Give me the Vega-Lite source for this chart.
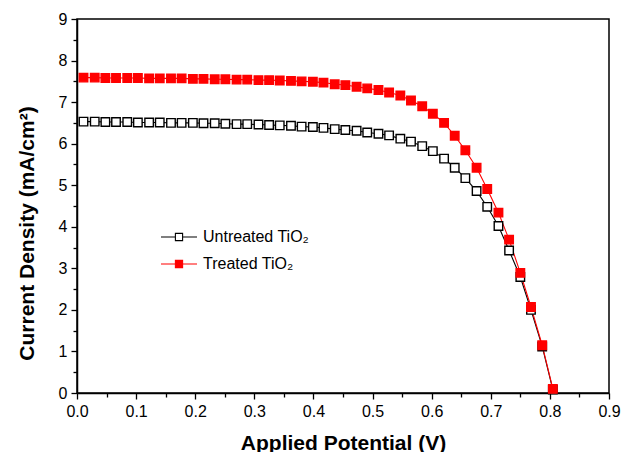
{
  "$schema": "https://vega.github.io/schema/vega-lite/v6.json",
  "width": 532,
  "height": 374,
  "autosize": {"type": "none"},
  "padding": {"left": 77, "top": 19, "right": 16, "bottom": 59},
  "background": "white",
  "config": {
    "view": {"stroke": "#000000", "strokeWidth": 1.5},
    "font": "Liberation Sans",
    "axis": {"grid": false, "labelFlush": false, "labelOverlap": false, "domainColor": "#000000", "domainWidth": 1.5, "tickColor": "#000000", "tickWidth": 1.3, "labelColor": "#000000", "titleColor": "#000000", "labelFont": "Liberation Sans", "titleFont": "Liberation Sans"}
  },
  "data": {"values": [
    {"series": "Untreated TiO₂", "V": 0.011, "J": 6.53},
    {"series": "Untreated TiO₂", "V": 0.030, "J": 6.53},
    {"series": "Untreated TiO₂", "V": 0.048, "J": 6.52},
    {"series": "Untreated TiO₂", "V": 0.066, "J": 6.52},
    {"series": "Untreated TiO₂", "V": 0.085, "J": 6.52},
    {"series": "Untreated TiO₂", "V": 0.103, "J": 6.51},
    {"series": "Untreated TiO₂", "V": 0.122, "J": 6.51},
    {"series": "Untreated TiO₂", "V": 0.140, "J": 6.51},
    {"series": "Untreated TiO₂", "V": 0.159, "J": 6.50},
    {"series": "Untreated TiO₂", "V": 0.177, "J": 6.50},
    {"series": "Untreated TiO₂", "V": 0.196, "J": 6.50},
    {"series": "Untreated TiO₂", "V": 0.214, "J": 6.49},
    {"series": "Untreated TiO₂", "V": 0.233, "J": 6.49},
    {"series": "Untreated TiO₂", "V": 0.251, "J": 6.48},
    {"series": "Untreated TiO₂", "V": 0.270, "J": 6.47},
    {"series": "Untreated TiO₂", "V": 0.288, "J": 6.47},
    {"series": "Untreated TiO₂", "V": 0.307, "J": 6.46},
    {"series": "Untreated TiO₂", "V": 0.325, "J": 6.45},
    {"series": "Untreated TiO₂", "V": 0.343, "J": 6.44},
    {"series": "Untreated TiO₂", "V": 0.362, "J": 6.43},
    {"series": "Untreated TiO₂", "V": 0.380, "J": 6.41},
    {"series": "Untreated TiO₂", "V": 0.399, "J": 6.40},
    {"series": "Untreated TiO₂", "V": 0.417, "J": 6.38},
    {"series": "Untreated TiO₂", "V": 0.436, "J": 6.35},
    {"series": "Untreated TiO₂", "V": 0.454, "J": 6.33},
    {"series": "Untreated TiO₂", "V": 0.473, "J": 6.31},
    {"series": "Untreated TiO₂", "V": 0.491, "J": 6.27},
    {"series": "Untreated TiO₂", "V": 0.510, "J": 6.24},
    {"series": "Untreated TiO₂", "V": 0.528, "J": 6.20},
    {"series": "Untreated TiO₂", "V": 0.547, "J": 6.12},
    {"series": "Untreated TiO₂", "V": 0.565, "J": 6.05},
    {"series": "Untreated TiO₂", "V": 0.584, "J": 5.94},
    {"series": "Untreated TiO₂", "V": 0.602, "J": 5.82},
    {"series": "Untreated TiO₂", "V": 0.621, "J": 5.64},
    {"series": "Untreated TiO₂", "V": 0.639, "J": 5.42},
    {"series": "Untreated TiO₂", "V": 0.657, "J": 5.17},
    {"series": "Untreated TiO₂", "V": 0.676, "J": 4.86},
    {"series": "Untreated TiO₂", "V": 0.694, "J": 4.48},
    {"series": "Untreated TiO₂", "V": 0.713, "J": 4.02},
    {"series": "Untreated TiO₂", "V": 0.731, "J": 3.43},
    {"series": "Untreated TiO₂", "V": 0.750, "J": 2.79},
    {"series": "Untreated TiO₂", "V": 0.768, "J": 2.00},
    {"series": "Untreated TiO₂", "V": 0.787, "J": 1.12},
    {"series": "Untreated TiO₂", "V": 0.805, "J": 0.08},
    {"series": "Treated TiO₂", "V": 0.011, "J": 7.59},
    {"series": "Treated TiO₂", "V": 0.030, "J": 7.59},
    {"series": "Treated TiO₂", "V": 0.048, "J": 7.58},
    {"series": "Treated TiO₂", "V": 0.066, "J": 7.58},
    {"series": "Treated TiO₂", "V": 0.085, "J": 7.58},
    {"series": "Treated TiO₂", "V": 0.103, "J": 7.58},
    {"series": "Treated TiO₂", "V": 0.122, "J": 7.57},
    {"series": "Treated TiO₂", "V": 0.140, "J": 7.57},
    {"series": "Treated TiO₂", "V": 0.159, "J": 7.57},
    {"series": "Treated TiO₂", "V": 0.177, "J": 7.57},
    {"series": "Treated TiO₂", "V": 0.196, "J": 7.56},
    {"series": "Treated TiO₂", "V": 0.214, "J": 7.56},
    {"series": "Treated TiO₂", "V": 0.233, "J": 7.55},
    {"series": "Treated TiO₂", "V": 0.251, "J": 7.55},
    {"series": "Treated TiO₂", "V": 0.270, "J": 7.54},
    {"series": "Treated TiO₂", "V": 0.288, "J": 7.54},
    {"series": "Treated TiO₂", "V": 0.307, "J": 7.53},
    {"series": "Treated TiO₂", "V": 0.325, "J": 7.53},
    {"series": "Treated TiO₂", "V": 0.343, "J": 7.52},
    {"series": "Treated TiO₂", "V": 0.362, "J": 7.51},
    {"series": "Treated TiO₂", "V": 0.380, "J": 7.50},
    {"series": "Treated TiO₂", "V": 0.399, "J": 7.49},
    {"series": "Treated TiO₂", "V": 0.417, "J": 7.47},
    {"series": "Treated TiO₂", "V": 0.436, "J": 7.43},
    {"series": "Treated TiO₂", "V": 0.454, "J": 7.41},
    {"series": "Treated TiO₂", "V": 0.473, "J": 7.37},
    {"series": "Treated TiO₂", "V": 0.491, "J": 7.33},
    {"series": "Treated TiO₂", "V": 0.510, "J": 7.29},
    {"series": "Treated TiO₂", "V": 0.528, "J": 7.23},
    {"series": "Treated TiO₂", "V": 0.547, "J": 7.16},
    {"series": "Treated TiO₂", "V": 0.565, "J": 7.04},
    {"series": "Treated TiO₂", "V": 0.584, "J": 6.90},
    {"series": "Treated TiO₂", "V": 0.602, "J": 6.72},
    {"series": "Treated TiO₂", "V": 0.621, "J": 6.50},
    {"series": "Treated TiO₂", "V": 0.639, "J": 6.19},
    {"series": "Treated TiO₂", "V": 0.657, "J": 5.84},
    {"series": "Treated TiO₂", "V": 0.676, "J": 5.42},
    {"series": "Treated TiO₂", "V": 0.694, "J": 4.91},
    {"series": "Treated TiO₂", "V": 0.713, "J": 4.34},
    {"series": "Treated TiO₂", "V": 0.731, "J": 3.69},
    {"series": "Treated TiO₂", "V": 0.750, "J": 2.89},
    {"series": "Treated TiO₂", "V": 0.768, "J": 2.07},
    {"series": "Treated TiO₂", "V": 0.787, "J": 1.15},
    {"series": "Treated TiO₂", "V": 0.805, "J": 0.10}
  ]},
  "layer": [
    {
      "mark": {"type": "point", "opacity": 0},
      "encoding": {
        "x": {"field": "V", "type": "quantitative", "scale": {"domain": [0, 0.9], "nice": false, "zero": false},
          "axis": {"orient": "bottom", "values": [0.05, 0.15, 0.25, 0.35, 0.45, 0.55, 0.65, 0.75, 0.85], "labels": false, "domain": false, "tickSize": 4, "title": null}},
        "y": {"field": "J", "type": "quantitative", "scale": {"domain": [0, 9], "nice": false},
          "axis": {"orient": "left", "values": [0.5, 1.5, 2.5, 3.5, 4.5, 5.5, 6.5, 7.5, 8.5], "labels": false, "domain": false, "tickSize": 4, "title": null}}
      }
    },
    {
      "layer": [
        {
          "mark": {"type": "line", "strokeWidth": 1.1},
          "encoding": {
            "x": {"field": "V", "type": "quantitative",
              "axis": {"orient": "bottom", "values": [0, 0.1, 0.2, 0.3, 0.4, 0.5, 0.6, 0.7, 0.8, 0.9], "format": ".1f", "tickSize": 6, "labelFontSize": 16, "labelPadding": 4,
                "title": "Applied Potential (V)", "titleFontSize": 21, "titleFontWeight": "bold", "titleBaseline": "alphabetic", "titleY": 56, "titleX": 266}},
            "y": {"field": "J", "type": "quantitative",
              "axis": {"orient": "left", "values": [0, 1, 2, 3, 4, 5, 6, 7, 8, 9], "tickSize": 6, "labelFontSize": 16, "labelPadding": 4,
                "title": "Current Density (mA/cm²)", "titleFontSize": 21, "titleFontWeight": "bold", "titleBaseline": "alphabetic", "titleAngle": -90, "titleAlign": "center", "titleX": -44, "titleY": 214}},
            "color": {"field": "series", "type": "nominal",
              "scale": {"domain": ["Untreated TiO₂", "Treated TiO₂"], "range": ["#000000", "#ff0000"]},
              "legend": {"orient": "none", "legendX": 83, "legendY": 199, "title": null, "labelFontSize": 16, "labelFont": "Liberation Sans", "labelColor": "#000000",
                "symbolType": "M-1,0H-0.2M0.2,0H1M-0.2,-0.2H0.2V0.2H-0.2Z", "symbolSize": 1296, "symbolStrokeWidth": 1.1, "labelOffset": 5, "rowPadding": -10,
                "encode": {"symbols": {"update": {"fill": {"signal": "datum.value === 'Treated TiO₂' ? '#ff0000' : '#ffffff'"}}}}}}
          }
        },
        {
          "mark": {"type": "point", "shape": "square", "size": 72, "strokeWidth": 1.4, "opacity": 1},
          "encoding": {
            "x": {"field": "V", "type": "quantitative"},
            "y": {"field": "J", "type": "quantitative"},
            "color": {"field": "series", "type": "nominal", "legend": null},
            "fill": {"field": "series", "type": "nominal", "scale": {"domain": ["Untreated TiO₂", "Treated TiO₂"], "range": ["#ffffff", "#ff0000"]}, "legend": null}
          }
        }
      ]
    }
  ],
  "resolve": {"axis": {"x": "independent", "y": "independent"}}
}
